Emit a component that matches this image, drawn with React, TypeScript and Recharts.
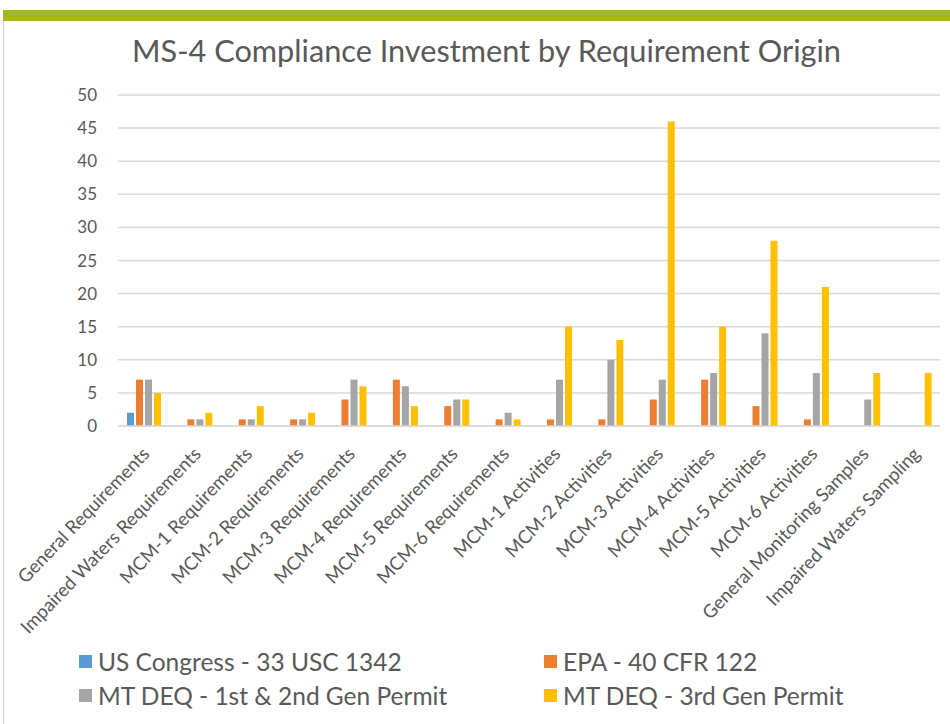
import React from "react";
import { BarChart, Bar, XAxis, YAxis, CartesianGrid, Legend } from "recharts";

const categories = [
  "General Requirements",
  "Impaired Waters Requirements",
  "MCM-1 Requirements",
  "MCM-2 Requirements",
  "MCM-3 Requirements",
  "MCM-4 Requirements",
  "MCM-5 Requirements",
  "MCM-6 Requirements",
  "MCM-1 Activities",
  "MCM-2 Activities",
  "MCM-3 Activities",
  "MCM-4 Activities",
  "MCM-5 Activities",
  "MCM-6 Activities",
  "General Monitoring Samples",
  "Impaired Waters Sampling",
];

const usCongress = [2, 0, 0, 0, 0, 0, 0, 0, 0, 0, 0, 0, 0, 0, 0, 0];
const epa = [7, 1, 1, 1, 4, 7, 3, 1, 1, 1, 4, 7, 3, 1, 0, 0];
const mtdeq12 = [7, 1, 1, 1, 7, 6, 4, 2, 7, 10, 7, 8, 14, 8, 4, 0];
const mtdeq3 = [5, 2, 3, 2, 6, 3, 4, 1, 15, 13, 46, 15, 28, 21, 8, 8];

const yTicks = [0, 5, 10, 15, 20, 25, 30, 35, 40, 45, 50];

const seriesNames = [
  "US Congress - 33 USC 1342",
  "EPA - 40 CFR 122",
  "MT DEQ - 1st & 2nd Gen Permit",
  "MT DEQ - 3rd Gen Permit",
];
const seriesColors = ["#5B9BD5", "#ED7D31", "#A5A5A5", "#FFC000"];
const seriesKeys = ["s0", "s1", "s2", "s3"];

const data = categories.map((c, i) => ({
  name: c,
  s0: usCongress[i],
  s1: epa[i],
  s2: mtdeq12[i],
  s3: mtdeq3[i],
}));

const FONT = "Lato, 'Noto Sans', sans-serif";

const XTick = (props: any) => {
  const { x, y, payload } = props;
  return (
    <g transform={`translate(${x + 7},${y + 21})`}>
      <text
        x={0}
        y={0}
        textAnchor="end"
        transform="rotate(-46)"
        fill="#595959"
        fontSize={18.5}
        fontFamily={FONT}
      >
        {payload.value}
      </text>
    </g>
  );
};

const LegendContent = () => {
  const pos = [
    { left: 79, top: 10 },
    { left: 544, top: 10 },
    { left: 79, top: 44 },
    { left: 544, top: 44 },
  ];
  return (
    <div style={{ position: "relative", width: 950, height: 80 }}>
      {seriesNames.map((n, i) => (
        <div
          key={n}
          style={{
            position: "absolute",
            left: pos[i].left,
            top: pos[i].top,
            height: 34,
            display: "flex",
            alignItems: "center",
            fontFamily: FONT,
            fontSize: 24.5,
            color: "#595959",
            whiteSpace: "nowrap",
          }}
        >
          <span
            style={{
              display: "inline-block",
              width: 13,
              height: 13,
              background: seriesColors[i],
              marginRight: 6,
            }}
          />
          {n}
        </div>
      ))}
    </div>
  );
};

export default function App() {
  return (
    <div
      style={{
        position: "absolute",
        left: 0,
        top: 0,
        width: 950,
        height: 724,
        background: "#ffffff",
        overflow: "hidden",
      }}
    >
      <div
        style={{
          position: "absolute",
          left: 3,
          top: 10,
          width: 947,
          height: 11,
          background: "#A5B822",
        }}
      />
      <div
        style={{
          position: "absolute",
          left: 3,
          top: 21,
          width: 1,
          height: 703,
          background: "#D0D0D0",
        }}
      />
      <div
        style={{
          position: "absolute",
          left: 0,
          top: 32,
          width: 973,
          textAlign: "center",
          fontFamily: FONT,
          fontSize: 30.7,
          color: "#595959",
          whiteSpace: "nowrap",
        }}
      >
        MS-4 Compliance Investment by Requirement Origin
      </div>
      <div style={{ position: "absolute", left: 0, top: 0 }}>
        <BarChart
          width={950}
          height={724}
          data={data}
          margin={{ top: 95, right: 10, left: 58, bottom: 10 }}
          barSize={7}
          barGap={2}
        >
          <CartesianGrid vertical={false} stroke="#D9D9D9" strokeWidth={1.5} />
          <XAxis
            dataKey="name"
            interval={0}
            tickLine={false}
            axisLine={{ stroke: "#D9D9D9", strokeWidth: 1.5 }}
            tick={<XTick />}
            height={208}
          />
          <YAxis
            width={60}
            domain={[0, 50]}
            ticks={yTicks}
            axisLine={false}
            tickLine={false}
            tickSize={0}
            tickMargin={21}
            tick={{ fill: "#595959", fontSize: 17, fontFamily: FONT }}
          />
          <Legend verticalAlign="bottom" content={<LegendContent />} wrapperStyle={{ left: 0, width: 950 }} />
          {seriesKeys.map((k, i) => (
            <Bar
              key={k}
              dataKey={k}
              name={seriesNames[i]}
              fill={seriesColors[i]}
              isAnimationActive={false}
            />
          ))}
        </BarChart>
      </div>
    </div>
  );
}
